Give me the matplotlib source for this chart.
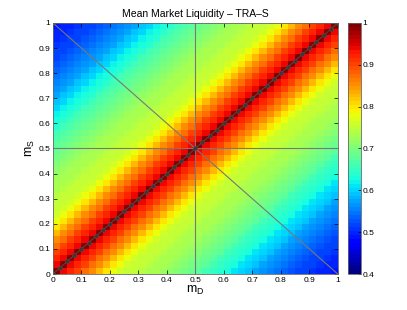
import numpy as np
import matplotlib
matplotlib.use('Agg')
import matplotlib.pyplot as plt

plt.rcParams['font.family'] = ['Liberation Sans', 'DejaVu Sans']

# grid of m_D / m_S values (cell edges, step 0.025)
m_grid = np.linspace(0., 1., 41)

# mean liquidity vs. number of cells away from the diagonal
# below the diagonal (m_D > m_S), k = 0..39
lower_profile = [1.00, 0.94, 0.92, 0.90, 0.875, 0.85, 0.825, 0.80, 0.78, 0.765,
                 0.755, 0.748, 0.742, 0.736, 0.73, 0.722, 0.713, 0.704, 0.695, 0.685,
                 0.672, 0.66, 0.65, 0.64, 0.628, 0.615, 0.60, 0.588, 0.576, 0.565,
                 0.555, 0.545, 0.535, 0.527, 0.52, 0.513, 0.507, 0.50, 0.495, 0.49]
# above the diagonal (m_S > m_D), k = 0..39
upper_profile = [1.00, 0.94, 0.92, 0.90, 0.875, 0.85, 0.825, 0.80, 0.78, 0.765,
                 0.755, 0.748, 0.742, 0.736, 0.73, 0.724, 0.716, 0.708, 0.70, 0.69,
                 0.678, 0.666, 0.655, 0.643, 0.63, 0.617, 0.602, 0.589, 0.577, 0.566,
                 0.555, 0.545, 0.535, 0.527, 0.52, 0.513, 0.507, 0.50, 0.495, 0.49]

# diagonal markers
diag_pts = np.linspace(0., 1., 41)

n = len(m_grid) - 1
liquidity = np.zeros((n, n))
for i in range(n):      # m_S index (rows)
	for j in range(n):  # m_D index (cols)
		if j >= i:
			liquidity[i, j] = lower_profile[j - i]
		else:
			liquidity[i, j] = upper_profile[i - j]

fig = plt.figure(figsize=(4.07, 3.10), dpi=100)
ax = fig.add_axes([0.130, 0.116, 0.700, 0.810])
cax = fig.add_axes([0.855, 0.116, 0.032, 0.810])

cmap = plt.get_cmap('jet', 64)
mesh = ax.pcolormesh(m_grid, m_grid, liquidity, cmap=cmap, vmin=0.4, vmax=1., shading='flat')

grey = (0.47, 0.47, 0.47)
ax.plot([0.5, 0.5], [0., 1.], color=grey, lw=0.8)
ax.plot([0., 1.], [0.5, 0.5], color=grey, lw=0.8)
ax.plot([0., 1.], [1., 0.], color=grey, lw=0.8)
ax.plot(diag_pts, diag_pts, '-o', color=(0.3, 0.3, 0.3), lw=0.7, ms=2.8,
	mfc=(0.25, 0.2, 0.2), mec=(0.3, 0.3, 0.3), mew=0.5)

ax.set_xlim([0., 1.])
ax.set_ylim([0., 1.])
ticks = np.arange(0., 1.01, 0.1)
ax.set_xticks(ticks)
ax.set_yticks(ticks)
ax.set_xticklabels(['0'] + ['%.1f' % t for t in ticks[1:-1]] + ['1'])
ax.set_yticklabels(['0'] + ['%.1f' % t for t in ticks[1:-1]] + ['1'])
ax.tick_params(direction='in', length=3, width=0.5, labelsize=6, top=True, right=True, pad=2)
for s in ax.spines.values():
	s.set_linewidth(0.6)
	s.set_color((0.4, 0.4, 0.4))

ax.set_title('Mean Market Liquidity \u2013 TRA\u2013S', fontsize=7.5, pad=4)
ax.set_xlabel(r'$\mathregular{m_D}$', fontsize=9, labelpad=0)
ax.set_ylabel(r'$\mathregular{m_S}$', fontsize=9, labelpad=1)

cb = fig.colorbar(mesh, cax=cax)
cb.set_ticks([0.4, 0.5, 0.6, 0.7, 0.8, 0.9, 1.0])
cb.set_ticklabels(['0.4', '0.5', '0.6', '0.7', '0.8', '0.9', '1'])
cb.ax.tick_params(direction='in', length=2, width=0.5, labelsize=6, pad=1)
cb.outline.set_linewidth(0.6)
cb.outline.set_edgecolor((0.4, 0.4, 0.4))

fig.savefig('out.png', dpi=100)
